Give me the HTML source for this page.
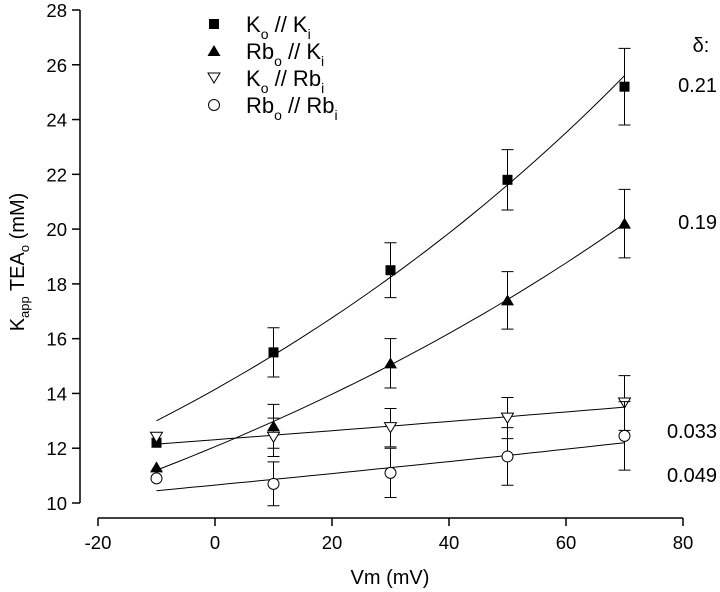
<!DOCTYPE html>
<html><head><meta charset="utf-8"><style>
body{margin:0;background:#fff}
svg{display:block;font-family:"Liberation Sans",Arial,sans-serif}
</style></head><body>
<svg id="c" width="720" height="592" xmlns="http://www.w3.org/2000/svg"></svg>
<script>
const voltages=[-10,10,30,50,70];
const koKi=[12.2,15.5,18.5,21.8,25.2];
const koKiErr=[0,0.9,1.0,1.1,1.4];
const rbKi=[11.3,12.8,15.1,17.4,20.2];
const rbKiErr=[0,0.8,0.9,1.05,1.25];
const koRb=[12.4,12.4,12.75,13.1,13.65];
const koRbErr=[0,0.7,0.7,0.75,1.0];
const rbRb=[10.9,10.7,11.1,11.7,12.45];
const rbRbErr=[0,0.8,0.9,1.05,1.25];
const fitStart=[13.0,11.2,12.15,10.45];
const fitEnd=[25.6,20.2,13.5,12.2];
const deltaLabels=["0.21","0.19","0.033","0.049"];
const xTicks=[-20,0,20,40,60,80];
const yTicks=[10,12,14,16,18,20,22,24,26,28];

const NS="http://www.w3.org/2000/svg";
const svg=document.getElementById('c');
const X=v=>98+(v+20)*(585/100);
const Y=v=>503-(v-10)*(493/18);
function el(t,a,p){const e=document.createElementNS(NS,t);for(const k in a)e.setAttribute(k,a[k]);(p||svg).appendChild(e);return e;}

let ya=el('line',{x1:80,y1:10,x2:80,y2:503,stroke:'#000','stroke-width':1.5});

let xa=el('line',{x1:98,y1:518,x2:683,y2:518,stroke:'#000','stroke-width':1.5});

yTicks.forEach(t=>{
  el('line',{x1:72,y1:Y(t),x2:80,y2:Y(t),stroke:'#000','stroke-width':1.5});
  const tx=el('text',{x:67,y:Y(t)+7,'text-anchor':'end','font-size':18.5});tx.textContent=t;
  
});
xTicks.forEach(t=>{
  el('line',{x1:X(t),y1:518,x2:X(t),y2:526,stroke:'#000','stroke-width':1.5});
  const tx=el('text',{x:X(t),y:549,'text-anchor':'middle','font-size':18.5});tx.textContent=t;
  
});
let xt=el('text',{x:390,y:584,'text-anchor':'middle','font-size':20});xt.textContent='Vm (mV)';

let ytt=el('text',{x:0,y:0,'text-anchor':'middle','font-size':20,transform:'translate(24,262) rotate(-90)'});
ytt.innerHTML='K<tspan font-size="13" dy="5">app</tspan><tspan dy="-5"> TEA</tspan><tspan font-size="13" dy="5">o</tspan><tspan dy="-5"> (mM)</tspan>';


fitStart.forEach((a,i)=>{
  const b=fitEnd[i];let d='';
  for(let k=0;k<=40;k++){const v=-10+80*k/40;const y=a*Math.pow(b/a,(v+10)/80);d+=(k?'L':'M')+X(v).toFixed(1)+' '+Y(y).toFixed(1);}
  const p=el('path',{d:d,fill:'none',stroke:'#000','stroke-width':1});
  
});

function marker(kind,cx,cy,g){
  if(kind==='sq')return el('rect',{x:cx-5,y:cy-5,width:10,height:10,fill:'#000'},g);
  if(kind==='tri')return el('polygon',{points:`${cx},${cy-6} ${cx-6.5},${cy+5} ${cx+6.5},${cy+5}`,fill:'#000'},g);
  if(kind==='itri')return el('polygon',{points:`${cx-6},${cy-5} ${cx+6},${cy-5} ${cx},${cy+5}`,fill:'#fff',stroke:'#000','stroke-width':1},g);
  return el('circle',{cx:cx,cy:cy,r:5.5,fill:'#fff',stroke:'#000','stroke-width':1},g);
}
const series=[[koKi,koKiErr,'sq','series-ko-ki'],[rbKi,rbKiErr,'tri','series-rbo-ki'],[koRb,koRbErr,'itri','series-ko-rbi'],[rbRb,rbRbErr,'circ','series-rbo-rbi']];
series.forEach(s=>{
  const g=el('g',{});
  voltages.forEach((v,i)=>{
    const e=s[1][i];
    if(e>0){
      const x=X(v),y1=Y(s[0][i]+e),y2=Y(s[0][i]-e);
      const eb=el('path',{d:`M${x} ${y1}V${y2}M${x-6} ${y1}H${x+6}M${x-6} ${y2}H${x+6}`,stroke:'#000','stroke-width':1,fill:'none'},g);
      
    }
    const m=marker(s[2],X(v),Y(s[0][i]),g);
    
  });
});

const leg=[['sq','K','o','K','i'],['tri','Rb','o','K','i'],['itri','K','o','Rb','i'],['circ','Rb','o','Rb','i']];
leg.forEach((l,i)=>{
  const y=24+i*27;
  const g=el('g',{});
  marker(l[0],214,y,g);
  const t=el('text',{x:246,y:y+8,'font-size':22},g);
  t.innerHTML=`${l[1]}<tspan font-size="14" dy="7">${l[2]}</tspan><tspan dy="-7"> // ${l[3]}</tspan><tspan font-size="14" dy="7">${l[4]}</tspan>`;
});

let dl=el('text',{x:701,y:52,'text-anchor':'middle','font-size':20});dl.textContent='δ:';

const dY=[92,229,438,482];
deltaLabels.forEach((d,i)=>{
  const t=el('text',{x:717,y:dY[i],'text-anchor':'end','font-size':20});t.textContent=d;
  
});
</script>
</body></html>
